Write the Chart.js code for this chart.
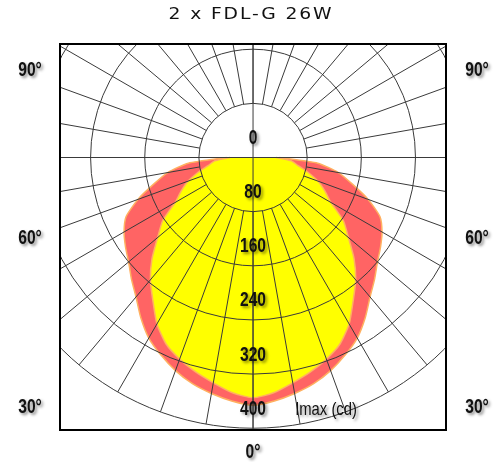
<!DOCTYPE html>
<html>
<head>
<meta charset="utf-8">
<script src="https://cdn.jsdelivr.net/npm/chart.js@4.4.0/dist/chart.umd.min.js"></script>
<style>
  html, body { margin: 0; padding: 0; background: #fff; }
</style>
</head>
<body>
<canvas id="polarChart" width="504" height="462"></canvas>
<script>
// Datos del diagrama polar (cd)
const chartTitle = '2 x FDL-G 26W';
const gammaAngles = [0, 5, 10, 15, 20, 25, 30, 35, 40, 45, 50, 55, 60, 65, 70, 75, 80, 85, 90];
const planeRed = [366, 361, 354, 346, 335, 322, 308, 289, 269, 254, 240, 230, 220, 207, 181, 152, 128, 96, 39];
const planeYellow = [355, 349, 338, 328, 317, 304, 284, 258, 236, 211, 184, 163, 133, 117, 102, 84, 67, 57, 34];
const ringValues = [80, 160, 240, 320, 400];
const ringLabels = ['0', '80', '160', '240', '320', '400'];
const spokeStep = 10;
const angleLabels = ['90°', '60°', '30°', '0°'];
const unitLabel = 'Imax (cd)';

// Curva cerrada: lado izquierdo 90 -> 0, lado derecho 0 -> 90
function polarShape(values) {
    const pts = [];
    for (let i = gammaAngles.length - 1; i >= 0; i--) {
        const g = gammaAngles[i] * Math.PI / 180;
        pts.push({ x: -values[i] * Math.sin(g), y: -values[i] * Math.cos(g) });
    }
    for (let i = 1; i < gammaAngles.length; i++) {
        const g = gammaAngles[i] * Math.PI / 180;
        pts.push({ x: values[i] * Math.sin(g), y: -values[i] * Math.cos(g) });
    }
    return pts;
}

const labelFont = 'bold 20px "Liberation Sans", "DejaVu Sans", sans-serif';
const unitFont = '19px "Liberation Sans", "DejaVu Sans", sans-serif';

// texto estrecho con sombra
function narrowText(ctx, text, px, py, font) {
    ctx.save();
    ctx.font = font;
    ctx.translate(px, py);
    ctx.scale(0.78, 1);
    ctx.fillText(text, 0, 0);
    ctx.restore();
}

const polarGrid = {
    id: 'polarGrid',
    afterDatasetsDraw(chart) {
        const { ctx, chartArea: a, scales: { x, y } } = chart;
        const cx = x.getPixelForValue(0);
        const cy = y.getPixelForValue(0);
        const k = (x.getPixelForValue(100) - cx) / 100;

        ctx.save();
        ctx.beginPath();
        ctx.rect(a.left, a.top, a.right - a.left, a.bottom - a.top);
        ctx.clip();
        ctx.strokeStyle = '#3a3a3a';
        ctx.lineWidth = 1;

        ringValues.forEach(v => {
            ctx.beginPath();
            ctx.arc(cx, cy, v * k, 0, Math.PI * 2);
            ctx.stroke();
        });

        const r0 = ringValues[0] * k;
        const r1 = ringValues[ringValues.length - 1] * k;
        for (let d = 0; d < 360; d += spokeStep) {
            const t = d * Math.PI / 180;
            ctx.beginPath();
            ctx.moveTo(cx + r0 * Math.sin(t), cy + r0 * Math.cos(t));
            ctx.lineTo(cx + r1 * Math.sin(t), cy + r1 * Math.cos(t));
            ctx.stroke();
        }

        ctx.beginPath();
        ctx.moveTo(a.left, cy);
        ctx.lineTo(a.right, cy);
        ctx.moveTo(cx, a.top);
        ctx.lineTo(cx, a.bottom);
        ctx.stroke();
        ctx.restore();

        // marco
        ctx.save();
        ctx.strokeStyle = '#000';
        ctx.lineWidth = 2;
        ctx.strokeRect(a.left, a.top, a.right - a.left, a.bottom - a.top);
        ctx.restore();
    },
    afterDraw(chart) {
        const { ctx, scales: { x, y } } = chart;
        const cx = x.getPixelForValue(0);

        // titulo
        ctx.save();
        ctx.fillStyle = '#111';
        ctx.font = '15px "DejaVu Sans", sans-serif';
        ctx.letterSpacing = '1.5px';
        ctx.textBaseline = 'middle';
        ctx.textAlign = 'center';
        ctx.translate(251, 15);
        ctx.scale(1.25, 1);
        ctx.fillText(chartTitle, 0, 0);
        ctx.restore();

        ctx.save();
        ctx.shadowColor = 'rgba(0,0,0,0.45)';
        ctx.shadowOffsetX = 2;
        ctx.shadowOffsetY = 2;
        ctx.shadowBlur = 3;
        ctx.fillStyle = '#111';
        ctx.textAlign = 'center';
        ctx.textBaseline = 'middle';

        // valores de los anillos
        ringLabels.forEach((lab, i) => {
            const v = i === 0 ? 0 : ringValues[i - 1];
            narrowText(ctx, lab, cx, y.getPixelForValue(-v) - 19, labelFont);
        });
        narrowText(ctx, unitLabel, cx + 73, y.getPixelForValue(-ringValues[ringValues.length - 1]) - 18, unitFont);

        // angulos
        const rows = [70, 238, 407];
        for (let i = 0; i < 3; i++) {
            narrowText(ctx, angleLabels[i], 30, rows[i], labelFont);
            narrowText(ctx, angleLabels[i], 477, rows[i], labelFont);
        }
        narrowText(ctx, angleLabels[3], cx, 452, labelFont);
        ctx.restore();
    }
};

const ctx = document.getElementById('polarChart').getContext('2d');
const chart = new Chart(ctx, {
    type: 'scatter',
    data: {
        datasets: [
            {
                label: 'C90-C270',
                data: polarShape(planeYellow),
                showLine: true,
                fill: 'shape',
                backgroundColor: '#ffff00',
                borderColor: '#ffb060',
                borderWidth: 1.5,
                pointRadius: 0,
                tension: 0.2
            },
            {
                label: 'C0-C180',
                data: polarShape(planeRed),
                showLine: true,
                fill: 'shape',
                backgroundColor: '#ff6464',
                borderColor: '#ffb060',
                borderWidth: 1.5,
                pointRadius: 0,
                tension: 0.2
            }
        ]
    },
    options: {
        responsive: false,
        animation: false,
        devicePixelRatio: 1,
        layout: { padding: { left: 60, right: 58, top: 44, bottom: 32 } },
        scales: {
            x: { type: 'linear', min: -285.2, max: 285.1, display: false },
            y: { type: 'linear', min: -402.6, max: 167.7, display: false }
        },
        plugins: {
            legend: { display: false },
            tooltip: { enabled: false },
            title: { display: false }
        }
    },
    plugins: [polarGrid]
});
</script>
</body>
</html>
